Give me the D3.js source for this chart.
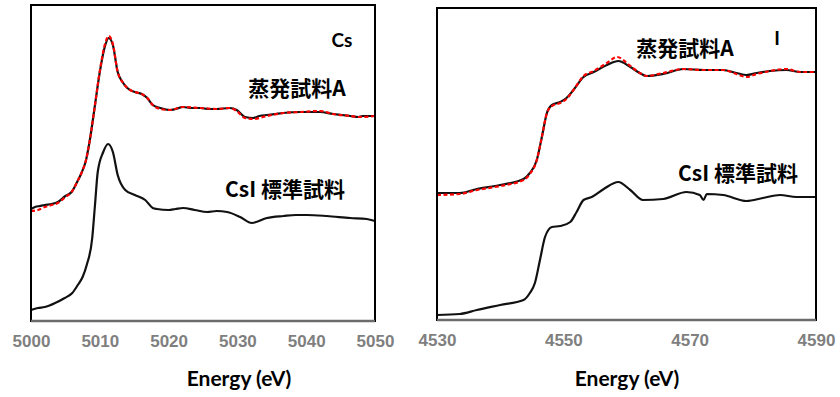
<!DOCTYPE html>
<html>
<head>
<meta charset="utf-8">
<script src="https://cdn.jsdelivr.net/npm/d3@7"></script>
<style>
  html, body { margin: 0; padding: 0; background: #fff; }
  svg { display: block; }
</style>
</head>
<body>
<div id="chart"></div>
<script>
// Cs K-edge (left panel): [energy eV, normalised absorbance + offset]
const csEvaporated = [
  [5000, 1.12], [5000.6, 1.14], [5001.3, 1.15], [5002, 1.16], [5003, 1.17], [5003.9, 1.19],
  [5005, 1.25], [5005.9, 1.29], [5006.7, 1.39], [5007.4, 1.49], [5008, 1.61], [5008.6, 1.83],
  [5009.3, 2.16], [5010, 2.49], [5010.8, 2.76], [5011.3, 2.83], [5011.9, 2.76], [5012.6, 2.49],
  [5013.3, 2.39], [5014, 2.33], [5015.1, 2.29], [5016.1, 2.27], [5016.9, 2.23], [5017.7, 2.16],
  [5018.8, 2.13], [5020.2, 2.11], [5021, 2.12], [5022.1, 2.14], [5023.3, 2.13], [5024.6, 2.13],
  [5025.8, 2.12], [5027, 2.12], [5028.9, 2.13], [5029.9, 2.11], [5031.1, 2.04], [5032.3, 2.03],
  [5033.2, 2.05], [5034.3, 2.06], [5035.5, 2.07], [5036.7, 2.08], [5039.1, 2.09], [5042, 2.09],
  [5043.9, 2.07], [5045.2, 2.06], [5046.4, 2.05], [5047.6, 2.04], [5048.2, 2.05], [5050, 2.05]
];
const csFit = [
  [5000, 1.10], [5001, 1.11], [5002, 1.14], [5003, 1.16], [5003.9, 1.18], [5005, 1.24],
  [5005.9, 1.29], [5006.7, 1.39], [5007.4, 1.49], [5008, 1.61], [5008.6, 1.83], [5009.3, 2.16],
  [5010, 2.50], [5010.8, 2.78], [5011.3, 2.85], [5011.9, 2.77], [5012.6, 2.49], [5013.3, 2.39],
  [5014, 2.33], [5015.1, 2.29], [5016.1, 2.27], [5016.9, 2.23], [5017.7, 2.16], [5018.8, 2.12],
  [5020.2, 2.11], [5022.1, 2.14], [5024.6, 2.13], [5027, 2.12], [5028.9, 2.13], [5029.9, 2.10],
  [5031.1, 2.03], [5032.3, 2.02], [5034.3, 2.05], [5036.7, 2.08], [5039.1, 2.09], [5042, 2.10],
  [5043.9, 2.07], [5046.4, 2.05], [5047.6, 2.04], [5050, 2.05]
];
const csStandard = [
  [5000, 0.11], [5001, 0.13], [5002, 0.14], [5003.5, 0.18], [5004.9, 0.23], [5006, 0.28],
  [5006.8, 0.36], [5007.5, 0.44], [5008.1, 0.56], [5008.9, 0.83], [5009.3, 1.16], [5009.7, 1.49],
  [5010.5, 1.69], [5011.2, 1.77], [5011.9, 1.69], [5012.6, 1.46], [5013.7, 1.31], [5015.1, 1.26],
  [5016.6, 1.21], [5017.7, 1.13], [5018.3, 1.12], [5020, 1.11], [5021, 1.12], [5022.1, 1.13],
  [5023.8, 1.11], [5025.6, 1.09], [5027, 1.10], [5028.5, 1.09], [5030.4, 1.04], [5032.1, 0.98],
  [5034.3, 1.03], [5036.7, 1.05], [5038.5, 1.06], [5040.1, 1.06], [5043, 1.05], [5046.4, 1.03],
  [5048.8, 1.02], [5050, 1.00]
];

// I K-edge (right panel)
const iEvaporated = [
  [4530, 1.27], [4533.6, 1.27], [4536.3, 1.31], [4540, 1.35], [4543.7, 1.41], [4544.7, 1.47],
  [4545.8, 1.60], [4546.6, 1.83], [4547.4, 2.07], [4548.2, 2.15], [4549.5, 2.18], [4550.5, 2.22],
  [4551.6, 2.30], [4553.2, 2.43], [4554.8, 2.48], [4556.9, 2.55], [4558.7, 2.59], [4560.6, 2.53],
  [4562.1, 2.47], [4563.2, 2.44], [4565.8, 2.46], [4569, 2.51], [4572.2, 2.50], [4575.3, 2.50],
  [4577.4, 2.47], [4579, 2.45], [4580.6, 2.47], [4582.7, 2.49], [4585.3, 2.50], [4587.5, 2.48],
  [4590, 2.48]
];
const iFit = [
  [4530, 1.25], [4533.6, 1.26], [4536.3, 1.30], [4540, 1.34], [4543.7, 1.40], [4544.7, 1.46],
  [4545.8, 1.60], [4546.6, 1.83], [4547.4, 2.07], [4548.2, 2.14], [4549.5, 2.17], [4550.5, 2.21],
  [4551.6, 2.30], [4553.2, 2.44], [4554.8, 2.49], [4556.9, 2.57], [4558.5, 2.63], [4560.6, 2.54],
  [4562.1, 2.47], [4563.2, 2.44], [4565.8, 2.47], [4569, 2.51], [4572.2, 2.50], [4575.3, 2.50],
  [4577.4, 2.46], [4579, 2.43], [4580.6, 2.46], [4582.7, 2.49], [4585.3, 2.51], [4587.5, 2.48],
  [4590, 2.48]
];
const iStandard = [
  [4530, 0.05], [4533.6, 0.06], [4536.3, 0.10], [4540, 0.15], [4543.7, 0.20], [4544.7, 0.27],
  [4545.5, 0.37], [4546.3, 0.60], [4547.1, 0.83], [4548.2, 0.93], [4549.5, 0.94], [4551.1, 0.98],
  [4552.1, 1.08], [4553.2, 1.20], [4554.5, 1.23], [4556.4, 1.31], [4558.7, 1.38], [4560.6, 1.30],
  [4562.6, 1.20], [4565.8, 1.21], [4569.5, 1.28], [4571.6, 1.25], [4572.2, 1.20], [4572.7, 1.26],
  [4575.3, 1.25], [4579, 1.19], [4581.6, 1.22], [4584.3, 1.25], [4586.9, 1.23], [4590, 1.23]
];

const csTicks = [5000, 5010, 5020, 5030, 5040, 5050];
const iTicks = [4530, 4550, 4570, 4590];
const axisTitle = 'Energy (eV)';

const width = 840;
const height = 397;

const svg = d3.select('#chart')
  .append('svg')
  .attr('width', width)
  .attr('height', height);

const tickFont = '"Liberation Sans", Arial, sans-serif';
const textFont = 'Lato, "Noto Sans CJK JP", sans-serif';
const cjkFont = '"Noto Sans CJK JP", sans-serif';

function drawPanel(p) {
  const x = d3.scaleLinear().domain(p.xDomain).range([p.left, p.right]);
  const y = d3.scaleLinear().domain(p.yDomain).range([p.bottom, p.top]);

  const g = svg.append('g');

  const line = d3.line()
    .curve(d3.curveMonotoneX)
    .x((d) => x(d[0]))
    .y((d) => y(d[1]));

  // 黒の実線
  [p.evaporated, p.standard].forEach((s) => {
    g.append('path')
      .datum(s)
      .attr('d', line)
      .attr('fill', 'none')
      .attr('stroke', '#111')
      .attr('stroke-width', 2.2)
      .attr('stroke-linejoin', 'round');
  });

  // 赤の破線
  g.append('path')
    .datum(p.fit)
    .attr('d', line)
    .attr('fill', 'none')
    .attr('stroke', '#f00')
    .attr('stroke-width', 2.2)
    .attr('stroke-dasharray', '4,2.5');

  // 枠
  g.append('rect')
    .attr('x', p.left)
    .attr('y', p.top)
    .attr('width', p.right - p.left)
    .attr('height', p.bottom - p.top)
    .attr('fill', 'none')
    .attr('stroke', '#000')
    .attr('stroke-width', 2);

  g.append('line')
    .attr('x1', p.left)
    .attr('x2', p.right)
    .attr('y1', p.bottom)
    .attr('y2', p.bottom)
    .attr('stroke', '#6b6b6b')
    .attr('stroke-width', 2.5);

  // x軸の目盛ラベル
  const axis = g.append('g')
    .attr('transform', `translate(0,${p.bottom})`)
    .call(d3.axisBottom(x).tickValues(p.ticks).tickSize(0).tickPadding(14).tickFormat(d3.format('d')));
  axis.select('.domain').remove();
  axis.selectAll('text')
    .attr('fill', '#7f7f7f')
    .attr('font-family', tickFont)
    .attr('font-weight', 'bold')
    .attr('font-size', 17);

  g.append('text')
    .attr('x', p.titleX)
    .attr('y', 386)
    .attr('text-anchor', 'middle')
    .attr('font-family', textFont)
    .attr('font-weight', 'bold')
    .attr('font-size', 21)
    .attr('fill', '#000')
    .text(axisTitle);

  // 注釈
  p.labels.forEach((l) => {
    g.append('text')
      .attr('x', l.x)
      .attr('y', l.y)
      .attr('text-anchor', 'middle')
      .attr('dominant-baseline', 'central')
      .attr('font-family', l.cjk ? cjkFont : textFont)
      .attr('font-weight', 'bold')
      .attr('font-size', l.size)
      .attr('fill', '#000')
      .text(l.text);
  });
}

drawPanel({
  left: 31, right: 375, top: 5, bottom: 321,
  xDomain: [5000, 5050], yDomain: [0, 3.16],
  evaporated: csEvaporated, fit: csFit, standard: csStandard,
  ticks: csTicks, titleX: 239,
  labels: [
    { text: 'Cs', x: 342, y: 39, size: 19 },
    { text: '蒸発試料A', x: 297, y: 87, size: 21, cjk: true },
    { text: 'CsI 標準試料', x: 285, y: 188, size: 21, cjk: true }
  ]
});

drawPanel({
  left: 437, right: 816, top: 8, bottom: 320,
  xDomain: [4530, 4590], yDomain: [0, 3.12],
  evaporated: iEvaporated, fit: iFit, standard: iStandard,
  ticks: iTicks, titleX: 627,
  labels: [
    { text: 'I', x: 777, y: 37, size: 19 },
    { text: '蒸発試料A', x: 685, y: 47, size: 21, cjk: true },
    { text: 'CsI 標準試料', x: 738, y: 172, size: 21, cjk: true }
  ]
});
</script>
</body>
</html>
